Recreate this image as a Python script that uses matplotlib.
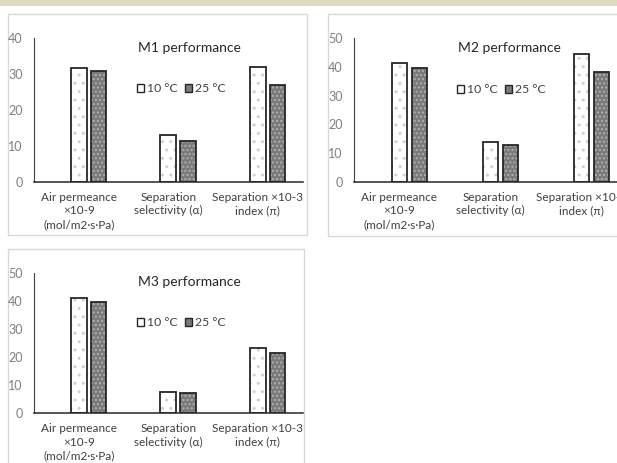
import numpy as np
import matplotlib.pyplot as plt
from matplotlib.patches import Rectangle, Patch

plt.rcParams['font.family'] = ['Lato', 'DejaVu Sans']

cats = ['Air permeance\n×10-9\n(mol/m2·s·Pa)', 'Separation\nselectivity (α)', 'Separation ×10-3\nindex (π)']
m1_10 = [31.7, 13.0, 32.0]
m1_25 = [30.9, 11.3, 26.9]
m2_10 = [41.4, 14.0, 44.4]
m2_25 = [39.5, 12.7, 38.3]
m3_10 = [40.9, 7.5, 23.3]
m3_25 = [39.7, 7.1, 21.3]
titles = ['M1 performance', 'M2 performance', 'M3 performance']
ymax = [40, 50, 50]

W, H = 617, 463
fig = plt.figure(figsize=(W / 100, H / 100), dpi=100)

def px(x0, y0, x1, y1):
    # pixel box (top-left origin) -> figure fraction [l, b, w, h]
    return [x0 / W, 1 - y1 / H, (x1 - x0) / W, (y1 - y0) / H]

# beige strip on top
fig.patches.append(Rectangle((0, 1 - 6 / H), 1, 6 / H, transform=fig.transFigure,
                             facecolor='#ddd8c0', edgecolor='none', zorder=-2))

# panel frames
for (x0, y0, x1, y1) in [(8, 14, 307, 235), (328, 14, 640, 236), (8, 249, 304, 480)]:
    l, b, w, h = px(x0, y0, x1, y1)
    fig.patches.append(Rectangle((l, b), w, h, transform=fig.transFigure,
                                 facecolor='white', edgecolor='#d9d9d9', lw=1, zorder=-2))

axes_px = [(34, 38, 302.5, 182), (354, 38, 627, 182), (34, 272.7, 302.5, 413.3)]
title_px = [(138, 48), (458, 48), (138, 282)]
leg_px = [(137, 83), (457, 84), (137, 317)]
data = [(m1_10, m1_25), (m2_10, m2_25), (m3_10, m3_25)]

x = np.arange(len(cats))
bw = 0.175
for i in range(3):
    ax = fig.add_axes(px(*axes_px[i]))
    ax.set_facecolor('none')
    v10, v25 = data[i]
    # fills with dots, then outlines
    ax.bar(x, v10, bw, color='white', hatch='..', edgecolor='#d0d0d0', lw=0)
    ax.bar(x + 0.22, v25, bw, color='#7a7a7a', hatch='....', edgecolor='#b0b0b0', lw=0)
    ax.bar(x, v10, bw, color='none', edgecolor='#262626', lw=1.3)
    ax.bar(x + 0.22, v25, bw, color='none', edgecolor='#262626', lw=1.3)
    ax.set_xlim(-0.5, 2.5)
    ax.set_ylim(0, ymax[i])
    ax.set_yticks(np.arange(0, ymax[i] + 1, 10))
    ax.set_xticks(x)
    ax.set_xticklabels(cats, linespacing=1.3)
    ax.tick_params(length=0, labelsize=8.5, colors='#404040', pad=7)
    ax.tick_params(axis='y', labelsize=9, labelcolor='#7f7f7f', pad=8)
    for s in ['top', 'right']:
        ax.spines[s].set_visible(False)
    ax.spines['left'].set_color('#404040')
    ax.spines['bottom'].set_color('#262626')
    ax.spines['bottom'].set_linewidth(1.1)
    tx, ty = title_px[i]
    fig.text(tx / W, 1 - ty / H, titles[i], fontsize=10, color='#262626', va='center', ha='left')
    handles = [Patch(facecolor='white', edgecolor='#262626', lw=1.0),
               Patch(facecolor='#7a7a7a', edgecolor='#262626', lw=1.0)]
    lx, ly = leg_px[i]
    fig.legend(handles, ['10 °C', '25 °C'], loc='upper left', bbox_to_anchor=(lx / W, 1 - ly / H),
               ncol=2, frameon=False, fontsize=8.8, handlelength=0.6, handleheight=0.6,
               handletextpad=0.2, columnspacing=0.6, borderpad=0, borderaxespad=0,
               labelcolor='#404040')

fig.savefig('out.png', dpi=100)
